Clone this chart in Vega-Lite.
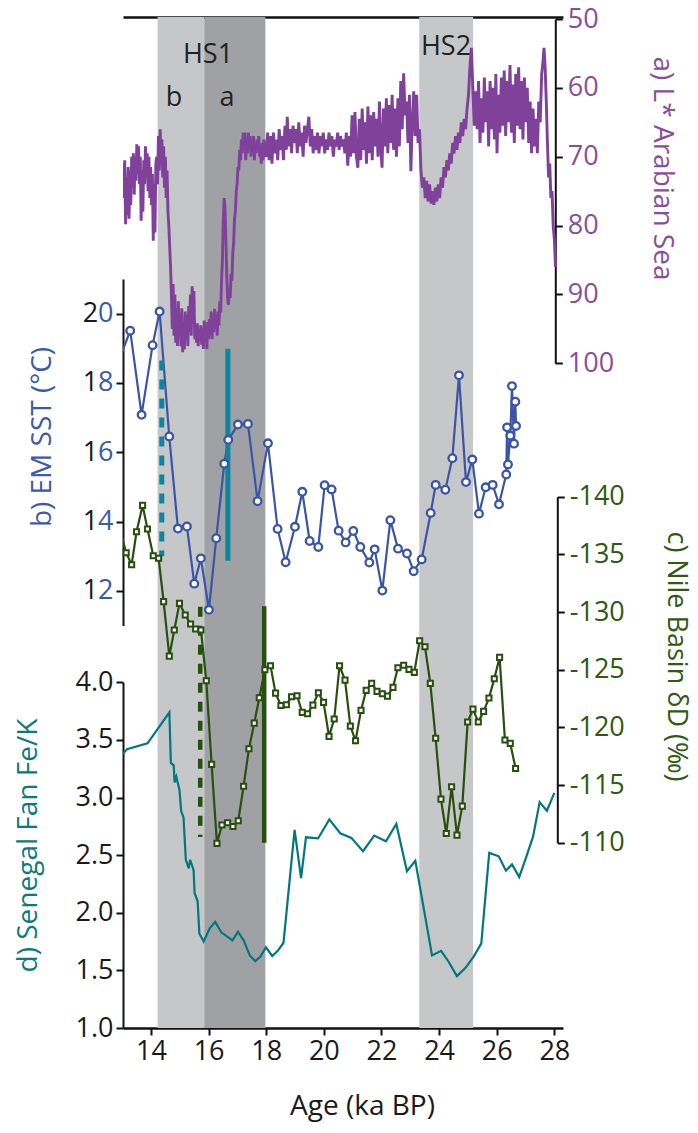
{
  "$schema": "https://vega.github.io/schema/vega-lite/v6.json",
  "width": 440,
  "height": 1011,
  "autosize": {"type": "none"},
  "padding": {"left": 123, "top": 17, "right": 135, "bottom": 105},
  "background": "white",
  "config": {
    "view": {"stroke": null},
    "font": "Open Sans",
    "axis": {
      "grid": false,
      "domainColor": "#111111",
      "domainWidth": 2,
      "tickColor": "#111111",
      "tickWidth": 2,
      "tickSize": 7,
      "labelFont": "Open Sans",
      "labelFontSize": 27,
      "labelPadding": 3,
      "labelColor": "#1a1a1a",
      "titleFont": "Open Sans",
      "titleFontSize": 28,
      "titleFontWeight": "normal"
    }
  },
  "datasets": {
    "bands": [
      {"phase": "HS1b", "start": 14.23, "end": 15.85},
      {"phase": "HS1a", "start": 15.85, "end": 17.97},
      {"phase": "HS2", "start": 23.31, "end": 25.18}
    ],
    "labels": [
      {"age": 15.98, "L": 56.4, "text": "HS1"},
      {"age": 24.24, "L": 55.2, "text": "HS2"},
      {"age": 14.8, "L": 62.6, "text": "b"},
      {"age": 16.64, "L": 62.6, "text": "a"}
    ],
    "lstar": [
      {"age": 13.03, "L": 71}, {"age": 13.06, "L": 76}, {"age": 13.09, "L": 70.5}, {"age": 13.12, "L": 79.8},
      {"age": 13.15, "L": 73}, {"age": 13.18, "L": 78.5}, {"age": 13.21, "L": 71.5}, {"age": 13.24, "L": 79},
      {"age": 13.27, "L": 72}, {"age": 13.30, "L": 77}, {"age": 13.33, "L": 70}, {"age": 13.36, "L": 74.5},
      {"age": 13.39, "L": 69.5}, {"age": 13.42, "L": 75.5}, {"age": 13.45, "L": 70}, {"age": 13.48, "L": 73.5},
      {"age": 13.51, "L": 68.2}, {"age": 13.54, "L": 72.5}, {"age": 13.57, "L": 68.5}, {"age": 13.60, "L": 74},
      {"age": 13.63, "L": 70}, {"age": 13.66, "L": 79.3}, {"age": 13.69, "L": 72}, {"age": 13.72, "L": 78},
      {"age": 13.75, "L": 70.5}, {"age": 13.78, "L": 74}, {"age": 13.81, "L": 68.5}, {"age": 13.84, "L": 73},
      {"age": 13.87, "L": 69.5}, {"age": 13.90, "L": 75}, {"age": 13.93, "L": 70}, {"age": 13.96, "L": 76},
      {"age": 13.99, "L": 71.5}, {"age": 14.02, "L": 77}, {"age": 14.05, "L": 72.5}, {"age": 14.08, "L": 82.2},
      {"age": 14.11, "L": 74}, {"age": 14.14, "L": 81}, {"age": 14.17, "L": 71}, {"age": 14.20, "L": 70},
      {"age": 14.23, "L": 74}, {"age": 14.26, "L": 67}, {"age": 14.29, "L": 72}, {"age": 14.32, "L": 66},
      {"age": 14.35, "L": 71}, {"age": 14.38, "L": 67.5}, {"age": 14.41, "L": 73}, {"age": 14.44, "L": 68.5},
      {"age": 14.47, "L": 74.5}, {"age": 14.50, "L": 70}, {"age": 14.53, "L": 76}, {"age": 14.56, "L": 72},
      {"age": 14.59, "L": 78}, {"age": 14.62, "L": 80}, {"age": 14.65, "L": 83}, {"age": 14.68, "L": 86},
      {"age": 14.71, "L": 90}, {"age": 14.74, "L": 95}, {"age": 14.77, "L": 88.5}, {"age": 14.80, "L": 96},
      {"age": 14.83, "L": 90}, {"age": 14.86, "L": 97}, {"age": 14.89, "L": 92}, {"age": 14.92, "L": 97.5},
      {"age": 14.95, "L": 91}, {"age": 14.98, "L": 96}, {"age": 15.01, "L": 93}, {"age": 15.04, "L": 97.5},
      {"age": 15.07, "L": 92}, {"age": 15.10, "L": 98.4}, {"age": 15.13, "L": 94}, {"age": 15.16, "L": 98},
      {"age": 15.19, "L": 92.5}, {"age": 15.22, "L": 96.5}, {"age": 15.25, "L": 93}, {"age": 15.28, "L": 97.5},
      {"age": 15.31, "L": 91.7}, {"age": 15.34, "L": 95.5}, {"age": 15.37, "L": 90}, {"age": 15.40, "L": 96},
      {"age": 15.43, "L": 88.8}, {"age": 15.46, "L": 94}, {"age": 15.49, "L": 89.5}, {"age": 15.52, "L": 96.5},
      {"age": 15.55, "L": 94.5}, {"age": 15.58, "L": 97}, {"age": 15.61, "L": 94.2}, {"age": 15.64, "L": 97.5},
      {"age": 15.67, "L": 95}, {"age": 15.70, "L": 96.5}, {"age": 15.73, "L": 94.5}, {"age": 15.76, "L": 97.3},
      {"age": 15.79, "L": 95}, {"age": 15.82, "L": 97.9}, {"age": 15.85, "L": 93.8}, {"age": 15.88, "L": 97},
      {"age": 15.91, "L": 94.5}, {"age": 15.94, "L": 97.9}, {"age": 15.97, "L": 94}, {"age": 16.00, "L": 96.5},
      {"age": 16.03, "L": 93.6}, {"age": 16.06, "L": 96}, {"age": 16.09, "L": 92.5}, {"age": 16.12, "L": 96.5},
      {"age": 16.15, "L": 93}, {"age": 16.18, "L": 95.5}, {"age": 16.21, "L": 92.1}, {"age": 16.24, "L": 95},
      {"age": 16.27, "L": 93}, {"age": 16.30, "L": 96}, {"age": 16.33, "L": 92.5}, {"age": 16.36, "L": 94.5},
      {"age": 16.39, "L": 91}, {"age": 16.42, "L": 92.6}, {"age": 16.45, "L": 88}, {"age": 16.48, "L": 85},
      {"age": 16.51, "L": 79}, {"age": 16.54, "L": 76}, {"age": 16.57, "L": 77.5}, {"age": 16.60, "L": 82},
      {"age": 16.63, "L": 87}, {"age": 16.66, "L": 90.5}, {"age": 16.69, "L": 91.5}, {"age": 16.72, "L": 89},
      {"age": 16.75, "L": 90.5}, {"age": 16.78, "L": 87}, {"age": 16.81, "L": 88}, {"age": 16.84, "L": 84},
      {"age": 16.87, "L": 82.5}, {"age": 16.90, "L": 79}, {"age": 16.93, "L": 78}, {"age": 16.96, "L": 75},
      {"age": 16.99, "L": 74}, {"age": 17.02, "L": 71.5}, {"age": 17.05, "L": 72}, {"age": 17.08, "L": 69},
      {"age": 17.11, "L": 70.5}, {"age": 17.14, "L": 67.5}, {"age": 17.17, "L": 69.5}, {"age": 17.20, "L": 66.5},
      {"age": 17.23, "L": 69}, {"age": 17.26, "L": 66.5}, {"age": 17.29, "L": 70.5}, {"age": 17.32, "L": 67.5},
      {"age": 17.35, "L": 69.5}, {"age": 17.38, "L": 66.5}, {"age": 17.41, "L": 68.5}, {"age": 17.44, "L": 67},
      {"age": 17.47, "L": 70}, {"age": 17.50, "L": 67.5}, {"age": 17.53, "L": 69}, {"age": 17.56, "L": 67},
      {"age": 17.59, "L": 70.5}, {"age": 17.62, "L": 68}, {"age": 17.65, "L": 69.5}, {"age": 17.68, "L": 67.5},
      {"age": 17.71, "L": 69}, {"age": 17.74, "L": 67}, {"age": 17.77, "L": 70}, {"age": 17.80, "L": 68.5},
      {"age": 17.83, "L": 71}, {"age": 17.86, "L": 68}, {"age": 17.89, "L": 70.5}, {"age": 17.92, "L": 67.5},
      {"age": 17.95, "L": 69.5}, {"age": 18.00, "L": 70}, {"age": 18.05, "L": 66.5}, {"age": 18.10, "L": 70.5},
      {"age": 18.15, "L": 67}, {"age": 18.20, "L": 71}, {"age": 18.25, "L": 66.5}, {"age": 18.30, "L": 69.5},
      {"age": 18.35, "L": 67.5}, {"age": 18.40, "L": 70.5}, {"age": 18.45, "L": 66}, {"age": 18.50, "L": 69},
      {"age": 18.55, "L": 67}, {"age": 18.60, "L": 70.5}, {"age": 18.65, "L": 65.5}, {"age": 18.70, "L": 69},
      {"age": 18.73, "L": 64.2}, {"age": 18.78, "L": 68.5}, {"age": 18.83, "L": 66}, {"age": 18.88, "L": 69.5},
      {"age": 18.93, "L": 65.5}, {"age": 18.98, "L": 68}, {"age": 19.03, "L": 66}, {"age": 19.08, "L": 69.5},
      {"age": 19.13, "L": 65}, {"age": 19.18, "L": 68.5}, {"age": 19.23, "L": 66.5}, {"age": 19.28, "L": 70},
      {"age": 19.33, "L": 65.5}, {"age": 19.38, "L": 68}, {"age": 19.43, "L": 66}, {"age": 19.48, "L": 64.2},
      {"age": 19.53, "L": 68.5}, {"age": 19.58, "L": 66}, {"age": 19.63, "L": 69.5}, {"age": 19.68, "L": 67},
      {"age": 19.73, "L": 69}, {"age": 19.78, "L": 66.5}, {"age": 19.83, "L": 69.5}, {"age": 19.88, "L": 67},
      {"age": 19.93, "L": 68.5}, {"age": 19.98, "L": 66.5}, {"age": 20.03, "L": 69.5}, {"age": 20.08, "L": 67.5},
      {"age": 20.13, "L": 69}, {"age": 20.18, "L": 66.5}, {"age": 20.23, "L": 68.5}, {"age": 20.28, "L": 67},
      {"age": 20.33, "L": 70}, {"age": 20.38, "L": 67.5}, {"age": 20.43, "L": 68.5}, {"age": 20.48, "L": 66.5},
      {"age": 20.53, "L": 69}, {"age": 20.58, "L": 67}, {"age": 20.63, "L": 68.5}, {"age": 20.68, "L": 67.5},
      {"age": 20.73, "L": 69.5}, {"age": 20.78, "L": 66.5}, {"age": 20.83, "L": 71.3}, {"age": 20.88, "L": 67},
      {"age": 20.93, "L": 70}, {"age": 20.98, "L": 64}, {"age": 21.03, "L": 69.5}, {"age": 21.08, "L": 63.5},
      {"age": 21.13, "L": 70}, {"age": 21.18, "L": 71.6}, {"age": 21.23, "L": 64.5}, {"age": 21.28, "L": 70.5},
      {"age": 21.33, "L": 63}, {"age": 21.38, "L": 69}, {"age": 21.43, "L": 65}, {"age": 21.48, "L": 71},
      {"age": 21.53, "L": 62.7}, {"age": 21.58, "L": 69.5}, {"age": 21.63, "L": 64}, {"age": 21.68, "L": 70.5},
      {"age": 21.73, "L": 63.5}, {"age": 21.78, "L": 68.5}, {"age": 21.83, "L": 64.5}, {"age": 21.88, "L": 70},
      {"age": 21.93, "L": 62}, {"age": 21.98, "L": 69}, {"age": 22.02, "L": 71.6}, {"age": 22.07, "L": 63},
      {"age": 22.12, "L": 68.5}, {"age": 22.17, "L": 61.5}, {"age": 22.22, "L": 69.5}, {"age": 22.27, "L": 62.5},
      {"age": 22.32, "L": 68}, {"age": 22.37, "L": 61}, {"age": 22.42, "L": 69}, {"age": 22.47, "L": 63},
      {"age": 22.52, "L": 70}, {"age": 22.57, "L": 61.5}, {"age": 22.62, "L": 68.5}, {"age": 22.67, "L": 59},
      {"age": 22.72, "L": 66}, {"age": 22.77, "L": 57.9}, {"age": 22.82, "L": 64}, {"age": 22.87, "L": 62},
      {"age": 22.92, "L": 68}, {"age": 22.97, "L": 61}, {"age": 23.02, "L": 72.1}, {"age": 23.07, "L": 65},
      {"age": 23.12, "L": 60.5}, {"age": 23.17, "L": 67}, {"age": 23.22, "L": 61}, {"age": 23.27, "L": 68},
      {"age": 23.32, "L": 66}, {"age": 23.37, "L": 72}, {"age": 23.42, "L": 74.5}, {"age": 23.47, "L": 73},
      {"age": 23.52, "L": 76}, {"age": 23.57, "L": 73.5}, {"age": 23.62, "L": 76.5}, {"age": 23.67, "L": 74},
      {"age": 23.72, "L": 76.8}, {"age": 23.77, "L": 75}, {"age": 23.82, "L": 77}, {"age": 23.87, "L": 74.5},
      {"age": 23.92, "L": 76.5}, {"age": 23.97, "L": 74}, {"age": 24.02, "L": 76}, {"age": 24.07, "L": 73},
      {"age": 24.12, "L": 74.5}, {"age": 24.17, "L": 71.5}, {"age": 24.22, "L": 73}, {"age": 24.27, "L": 70.5},
      {"age": 24.32, "L": 72}, {"age": 24.37, "L": 69.5}, {"age": 24.42, "L": 71}, {"age": 24.47, "L": 68},
      {"age": 24.52, "L": 69.5}, {"age": 24.57, "L": 67}, {"age": 24.62, "L": 69}, {"age": 24.67, "L": 66.5},
      {"age": 24.72, "L": 68}, {"age": 24.77, "L": 65}, {"age": 24.82, "L": 67}, {"age": 24.87, "L": 64.5},
      {"age": 24.92, "L": 66}, {"age": 24.97, "L": 63}, {"age": 25.02, "L": 61}, {"age": 25.07, "L": 57},
      {"age": 25.12, "L": 54.2}, {"age": 25.17, "L": 60}, {"age": 25.22, "L": 65.5}, {"age": 25.27, "L": 60.5},
      {"age": 25.32, "L": 66}, {"age": 25.37, "L": 59}, {"age": 25.42, "L": 68}, {"age": 25.47, "L": 61.5},
      {"age": 25.52, "L": 66.5}, {"age": 25.57, "L": 58.5}, {"age": 25.62, "L": 65}, {"age": 25.67, "L": 60.5},
      {"age": 25.72, "L": 68.5}, {"age": 25.77, "L": 59}, {"age": 25.82, "L": 66}, {"age": 25.87, "L": 60},
      {"age": 25.92, "L": 67.5}, {"age": 25.97, "L": 58}, {"age": 26.01, "L": 69.5}, {"age": 26.06, "L": 61},
      {"age": 26.11, "L": 66.5}, {"age": 26.16, "L": 58.5}, {"age": 26.21, "L": 65.5}, {"age": 26.26, "L": 57.5},
      {"age": 26.31, "L": 67}, {"age": 26.36, "L": 59}, {"age": 26.41, "L": 65}, {"age": 26.46, "L": 56.7},
      {"age": 26.51, "L": 66.5}, {"age": 26.56, "L": 59.5}, {"age": 26.61, "L": 68}, {"age": 26.66, "L": 58},
      {"age": 26.71, "L": 65.5}, {"age": 26.76, "L": 57}, {"age": 26.81, "L": 66}, {"age": 26.86, "L": 59},
      {"age": 26.91, "L": 67.5}, {"age": 26.96, "L": 58.5}, {"age": 27.01, "L": 65}, {"age": 27.06, "L": 60},
      {"age": 27.11, "L": 68}, {"age": 27.16, "L": 62}, {"age": 27.21, "L": 69.5}, {"age": 27.26, "L": 63},
      {"age": 27.31, "L": 68.5}, {"age": 27.36, "L": 64.5}, {"age": 27.41, "L": 69.5}, {"age": 27.46, "L": 62},
      {"age": 27.51, "L": 65}, {"age": 27.56, "L": 58}, {"age": 27.61, "L": 56}, {"age": 27.64, "L": 54.2},
      {"age": 27.68, "L": 57}, {"age": 27.72, "L": 62}, {"age": 27.76, "L": 68}, {"age": 27.80, "L": 73},
      {"age": 27.84, "L": 71}, {"age": 27.88, "L": 76}, {"age": 27.92, "L": 75}, {"age": 27.96, "L": 80},
      {"age": 28.00, "L": 82}, {"age": 28.04, "L": 86}
    ],
    "sst": [
      {"age": 12.9, "sst": 18.68}, {"age": 13.28, "sst": 19.51}, {"age": 13.675, "sst": 17.08},
      {"age": 14.057, "sst": 19.09}, {"age": 14.3, "sst": 20.06}, {"age": 14.635, "sst": 16.455},
      {"age": 14.936, "sst": 13.8}, {"age": 15.248, "sst": 13.86}, {"age": 15.503, "sst": 12.21},
      {"age": 15.734, "sst": 12.94}, {"age": 16.012, "sst": 11.455}, {"age": 16.266, "sst": 13.52},
      {"age": 16.544, "sst": 15.67}, {"age": 16.683, "sst": 16.36}, {"age": 17.018, "sst": 16.8},
      {"age": 17.366, "sst": 16.82}, {"age": 17.701, "sst": 14.59}, {"age": 18.06, "sst": 16.26},
      {"age": 18.396, "sst": 13.79}, {"age": 18.674, "sst": 12.83}, {"age": 18.998, "sst": 13.85},
      {"age": 19.252, "sst": 14.86}, {"age": 19.507, "sst": 13.44}, {"age": 19.808, "sst": 13.27},
      {"age": 20.028, "sst": 15.05}, {"age": 20.27, "sst": 14.93}, {"age": 20.513, "sst": 13.74},
      {"age": 20.757, "sst": 13.4}, {"age": 21.023, "sst": 13.73}, {"age": 21.266, "sst": 13.27},
      {"age": 21.578, "sst": 12.82}, {"age": 21.764, "sst": 13.2}, {"age": 22.03, "sst": 12.01},
      {"age": 22.308, "sst": 14.04}, {"age": 22.574, "sst": 13.22}, {"age": 22.886, "sst": 13.08},
      {"age": 23.118, "sst": 12.57}, {"age": 23.395, "sst": 12.91}, {"age": 23.708, "sst": 14.25},
      {"age": 23.881, "sst": 15.06}, {"age": 24.217, "sst": 14.92}, {"age": 24.46, "sst": 15.83},
      {"age": 24.69, "sst": 18.22}, {"age": 24.933, "sst": 15.14}, {"age": 25.153, "sst": 15.79},
      {"age": 25.384, "sst": 14.23}, {"age": 25.616, "sst": 14.99}, {"age": 25.859, "sst": 15.06},
      {"age": 26.079, "sst": 14.5}, {"age": 26.33, "sst": 15.36}, {"age": 26.36, "sst": 16.72},
      {"age": 26.39, "sst": 15.65}, {"age": 26.47, "sst": 16.48}, {"age": 26.53, "sst": 17.91},
      {"age": 26.6, "sst": 16.25}, {"age": 26.645, "sst": 17.46}, {"age": 26.67, "sst": 16.76}
    ],
    "sstBars": [
      {"age": 14.375, "top": 18.65, "bottom": 13.0, "kind": "dashed"},
      {"age": 16.67, "top": 18.99, "bottom": 12.87, "kind": "solid"}
    ],
    "dd": [
      {"age": 12.9, "dD": -137.4}, {"age": 13.14, "dD": -135.14}, {"age": 13.33, "dD": -134.1},
      {"age": 13.5, "dD": -136.96}, {"age": 13.71, "dD": -139.25}, {"age": 13.88, "dD": -137.2},
      {"age": 14.08, "dD": -134.88}, {"age": 14.265, "dD": -134.66}, {"age": 14.44, "dD": -130.9},
      {"age": 14.637, "dD": -126.18}, {"age": 14.81, "dD": -128.44}, {"age": 14.99, "dD": -130.75},
      {"age": 15.19, "dD": -129.74}, {"age": 15.375, "dD": -128.96}, {"age": 15.55, "dD": -128.53},
      {"age": 15.735, "dD": -128.44}, {"age": 15.92, "dD": -124.04}, {"age": 16.105, "dD": -116.79},
      {"age": 16.29, "dD": -109.94}, {"age": 16.465, "dD": -111.53}, {"age": 16.66, "dD": -111.73},
      {"age": 16.845, "dD": -111.41}, {"age": 17.03, "dD": -111.9}, {"age": 17.215, "dD": -114.9},
      {"age": 17.4, "dD": -118.14}, {"age": 17.585, "dD": -120.37}, {"age": 17.76, "dD": -122.57},
      {"age": 17.955, "dD": -125.0}, {"age": 18.15, "dD": -125.34}, {"age": 18.325, "dD": -122.97},
      {"age": 18.51, "dD": -121.9}, {"age": 18.7, "dD": -121.96}, {"age": 18.88, "dD": -122.65},
      {"age": 19.07, "dD": -122.74}, {"age": 19.25, "dD": -121.3}, {"age": 19.435, "dD": -121.18},
      {"age": 19.62, "dD": -121.93}, {"age": 19.81, "dD": -123.0}, {"age": 19.99, "dD": -122.17},
      {"age": 20.18, "dD": -119.22}, {"age": 20.36, "dD": -120.72}, {"age": 20.545, "dD": -125.34},
      {"age": 20.735, "dD": -124.1}, {"age": 20.92, "dD": -120.11}, {"age": 21.1, "dD": -118.84},
      {"age": 21.29, "dD": -121.47}, {"age": 21.47, "dD": -123.21}, {"age": 21.66, "dD": -123.81},
      {"age": 21.845, "dD": -123.12}, {"age": 22.03, "dD": -122.91}, {"age": 22.21, "dD": -122.71},
      {"age": 22.4, "dD": -123.47}, {"age": 22.57, "dD": -125.17}, {"age": 22.77, "dD": -125.38},
      {"age": 22.955, "dD": -125.03}, {"age": 23.14, "dD": -124.77}, {"age": 23.325, "dD": -127.51},
      {"age": 23.51, "dD": -126.99}, {"age": 23.695, "dD": -123.81}, {"age": 23.88, "dD": -119.05},
      {"age": 24.065, "dD": -113.78}, {"age": 24.25, "dD": -110.8}, {"age": 24.435, "dD": -114.85},
      {"age": 24.62, "dD": -110.66}, {"age": 24.805, "dD": -113.17}, {"age": 24.99, "dD": -120.46},
      {"age": 25.175, "dD": -121.58}, {"age": 25.36, "dD": -120.46}, {"age": 25.545, "dD": -121.39},
      {"age": 25.73, "dD": -122.54}, {"age": 25.915, "dD": -124.22}, {"age": 26.1, "dD": -126.07},
      {"age": 26.285, "dD": -118.9}, {"age": 26.47, "dD": -118.61}, {"age": 26.655, "dD": -116.44}
    ],
    "ddBars": [
      {"age": 15.71, "top": -130.45, "bottom": -110.5, "kind": "dashed"},
      {"age": 17.93, "top": -130.5, "bottom": -110.0, "kind": "solid"}
    ],
    "fek": [
      {"age": 13.03, "fek": 3.38}, {"age": 13.17, "fek": 3.42}, {"age": 13.88, "fek": 3.47},
      {"age": 14.64, "fek": 3.74}, {"age": 14.69, "fek": 3.3}, {"age": 14.79, "fek": 3.28},
      {"age": 14.82, "fek": 3.13}, {"age": 14.88, "fek": 3.18}, {"age": 14.99, "fek": 3.065},
      {"age": 15.05, "fek": 2.88}, {"age": 15.13, "fek": 2.83}, {"age": 15.21, "fek": 2.46},
      {"age": 15.31, "fek": 2.385}, {"age": 15.36, "fek": 2.46}, {"age": 15.48, "fek": 2.37},
      {"age": 15.515, "fek": 2.17}, {"age": 15.62, "fek": 2.1}, {"age": 15.68, "fek": 1.82},
      {"age": 15.83, "fek": 1.75}, {"age": 16.04, "fek": 1.865}, {"age": 16.23, "fek": 1.92},
      {"age": 16.44, "fek": 1.83}, {"age": 16.83, "fek": 1.76}, {"age": 17.02, "fek": 1.835},
      {"age": 17.22, "fek": 1.76}, {"age": 17.43, "fek": 1.63}, {"age": 17.62, "fek": 1.58},
      {"age": 17.8, "fek": 1.62}, {"age": 17.99, "fek": 1.7}, {"age": 18.21, "fek": 1.625},
      {"age": 18.4, "fek": 1.67}, {"age": 18.6, "fek": 1.74}, {"age": 18.985, "fek": 2.72},
      {"age": 19.21, "fek": 2.3}, {"age": 19.38, "fek": 2.655}, {"age": 19.8, "fek": 2.645},
      {"age": 20.19, "fek": 2.81}, {"age": 20.57, "fek": 2.69}, {"age": 20.955, "fek": 2.65},
      {"age": 21.36, "fek": 2.535}, {"age": 21.75, "fek": 2.67}, {"age": 22.155, "fek": 2.62},
      {"age": 22.515, "fek": 2.77}, {"age": 22.885, "fek": 2.36}, {"age": 23.175, "fek": 2.45},
      {"age": 23.755, "fek": 1.63}, {"age": 24.07, "fek": 1.67}, {"age": 24.33, "fek": 1.575},
      {"age": 24.62, "fek": 1.45}, {"age": 24.91, "fek": 1.52}, {"age": 25.2, "fek": 1.62},
      {"age": 25.465, "fek": 1.735}, {"age": 25.74, "fek": 2.52}, {"age": 26.07, "fek": 2.49},
      {"age": 26.32, "fek": 2.365}, {"age": 26.53, "fek": 2.42}, {"age": 26.78, "fek": 2.31},
      {"age": 27.02, "fek": 2.48}, {"age": 27.26, "fek": 2.66}, {"age": 27.49, "fek": 2.96},
      {"age": 27.74, "fek": 2.885}, {"age": 28.0, "fek": 3.04}
    ]
  },
  "resolve": {"scale": {"y": "independent"}, "axis": {"x": "independent"}},
  "layer": [
    {
      "data": {"name": "bands"},
      "mark": {"type": "rect"},
      "encoding": {
        "x": {
          "field": "start", "type": "quantitative",
          "scale": {"domain": [13.03, 28.3], "nice": false, "zero": false},
          "axis": {
            "orient": "bottom", "values": [14, 16, 18, 20, 22, 24, 26, 28],
            "title": "Age (ka BP)", "titleColor": "#1a1a1a", "domainWidth": 2.5,
            "labelPadding": 3, "titleX": 239, "titleY": 64
          }
        },
        "x2": {"field": "end"},
        "color": {
          "field": "phase", "type": "nominal", "legend": null,
          "scale": {"domain": ["HS1b", "HS1a", "HS2"], "range": ["#c6c7c9", "#a0a1a4", "#c6c7c9"]}
        }
      }
    },
    {
      "data": {"name": "labels"},
      "mark": {"type": "text", "font": "Open Sans", "fontSize": 27, "color": "#222222", "align": "center", "baseline": "alphabetic"},
      "encoding": {
        "x": {
          "field": "age", "type": "quantitative",
          "scale": {"domain": [13.03, 28.3], "nice": false, "zero": false},
          "axis": {"orient": "top", "ticks": false, "labels": false, "title": null, "domainWidth": 2.5}
        },
        "y": {"field": "L", "type": "quantitative", "scale": {"domain": [50, 100], "range": [2, 346.3], "nice": false, "zero": false}, "axis": null},
        "text": {"field": "text"}
      }
    },
    {
      "data": {"name": "lstar"},
      "mark": {"type": "line", "color": "#7f4199", "strokeWidth": 2.9, "clip": true},
      "encoding": {
        "x": {"field": "age", "type": "quantitative", "scale": {"domain": [13.03, 28.3], "nice": false, "zero": false}, "axis": null},
        "y": {
          "field": "L", "type": "quantitative",
          "scale": {"domain": [50, 100], "range": [2, 346.3], "nice": false, "zero": false},
          "axis": {
            "orient": "right", "offset": -7.7, "values": [50, 60, 70, 80, 90, 100],
            "title": "a) L* Arabian Sea", "labelColor": "#8a4d9e", "titleColor": "#8a4d9e",
            "labelPadding": 5, "titleX": 92, "titleY": 151
          }
        }
      }
    },
    {
      "data": {"name": "sst"},
      "mark": {"type": "line", "color": "#3a55a6", "strokeWidth": 2.2, "clip": true},
      "encoding": {
        "x": {"field": "age", "type": "quantitative", "scale": {"domain": [13.03, 28.3], "nice": false, "zero": false}, "axis": null},
        "y": {
          "field": "sst", "type": "quantitative",
          "scale": {"domain": [11, 21], "range": [608.6, 262], "nice": false, "zero": false},
          "axis": {
            "orient": "left", "values": [12, 14, 16, 18, 20], "domain": false,
            "tickColor": "transparent", "labelExpr": "slice(datum.label, -1)",
            "labelColor": "#3a5ba8", "title": null, "zindex": 1
          }
        }
      }
    },
    {
      "data": {"name": "sstBars"},
      "mark": {"type": "rule", "color": "#0a86a0", "strokeWidth": 5},
      "encoding": {
        "x": {"field": "age", "type": "quantitative", "scale": {"domain": [13.03, 28.3], "nice": false, "zero": false}, "axis": null},
        "y": {"field": "top", "type": "quantitative", "scale": {"domain": [11, 21], "range": [608.6, 262], "nice": false, "zero": false}, "axis": null},
        "y2": {"field": "bottom"},
        "strokeDash": {"field": "kind", "type": "nominal", "legend": null, "scale": {"domain": ["dashed", "solid"], "range": [[10, 9], [1, 0]]}}
      }
    },
    {
      "data": {"name": "sst"},
      "transform": [{"filter": "datum.age > 13.03"}],
      "mark": {"type": "point", "shape": "circle", "filled": true, "fill": "white", "stroke": "#3a55a6", "strokeWidth": 2.3, "size": 58, "opacity": 1},
      "encoding": {
        "x": {"field": "age", "type": "quantitative", "scale": {"domain": [13.03, 28.3], "nice": false, "zero": false}, "axis": null},
        "y": {
          "field": "sst", "type": "quantitative",
          "scale": {"domain": [11, 21], "range": [608.6, 262], "nice": false, "zero": false},
          "axis": {
            "orient": "left", "values": [12, 14, 16, 18, 20],
            "labelExpr": "slice(datum.label, 0, 1)", "labelPadding": 18.4,
            "title": "b) EM SST (°C)", "titleColor": "#3a5ba8", "labelColor": "#1a1a1a",
            "titleX": -67, "titleY": 419.5
          }
        }
      }
    },
    {
      "data": {"name": "dd"},
      "mark": {"type": "line", "color": "#27500f", "strokeWidth": 2.2, "clip": true},
      "encoding": {
        "x": {"field": "age", "type": "quantitative", "scale": {"domain": [13.03, 28.3], "nice": false, "zero": false}, "axis": null},
        "y": {
          "field": "dD", "type": "quantitative",
          "scale": {"domain": [-140, -110], "range": [479.7, 825.7], "nice": false, "zero": false},
          "axis": {
            "orient": "right", "offset": -5.7, "values": [-140, -135, -130, -125, -120, -115, -110],
            "labelExpr": "'-' + abs(datum.value)",
            "title": "c) Nile Basin δD (‰)", "titleFontSize": 27, "labelColor": "#2e5a12", "titleColor": "#2e5a12",
            "labelPadding": 5, "titleX": 104, "titleY": 639
          }
        }
      }
    },
    {
      "data": {"name": "ddBars"},
      "mark": {"type": "rule", "color": "#27500f", "strokeWidth": 4.5},
      "encoding": {
        "x": {"field": "age", "type": "quantitative", "scale": {"domain": [13.03, 28.3], "nice": false, "zero": false}, "axis": null},
        "y": {"field": "top", "type": "quantitative", "scale": {"domain": [-140, -110], "range": [479.7, 825.7], "nice": false, "zero": false}, "axis": null},
        "y2": {"field": "bottom"},
        "strokeDash": {"field": "kind", "type": "nominal", "legend": null, "scale": {"domain": ["dashed", "solid"], "range": [[10, 9], [1, 0]]}}
      }
    },
    {
      "data": {"name": "dd"},
      "transform": [{"filter": "datum.age > 13.03"}],
      "mark": {"type": "point", "shape": "square", "filled": true, "fill": "white", "stroke": "#27500f", "strokeWidth": 2, "size": 26, "opacity": 1},
      "encoding": {
        "x": {"field": "age", "type": "quantitative", "scale": {"domain": [13.03, 28.3], "nice": false, "zero": false}, "axis": null},
        "y": {"field": "dD", "type": "quantitative", "scale": {"domain": [-140, -110], "range": [479.7, 825.7], "nice": false, "zero": false}, "axis": null}
      }
    },
    {
      "data": {"name": "fek"},
      "mark": {"type": "line", "color": "#00787f", "strokeWidth": 2.2, "clip": true},
      "encoding": {
        "x": {"field": "age", "type": "quantitative", "scale": {"domain": [13.03, 28.3], "nice": false, "zero": false}, "axis": null},
        "y": {
          "field": "fek", "type": "quantitative",
          "scale": {"domain": [1, 4], "range": [1011, 665.3], "nice": false, "zero": false},
          "axis": {
            "orient": "left", "values": [1, 1.5, 2, 2.5, 3, 3.5, 4], "format": ".1f",
            "title": "d) Senegal Fan Fe/K", "titleColor": "#0a7b82", "labelColor": "#1a1a1a",
            "titleX": -81, "titleY": 828
          }
        }
      }
    }
  ]
}
